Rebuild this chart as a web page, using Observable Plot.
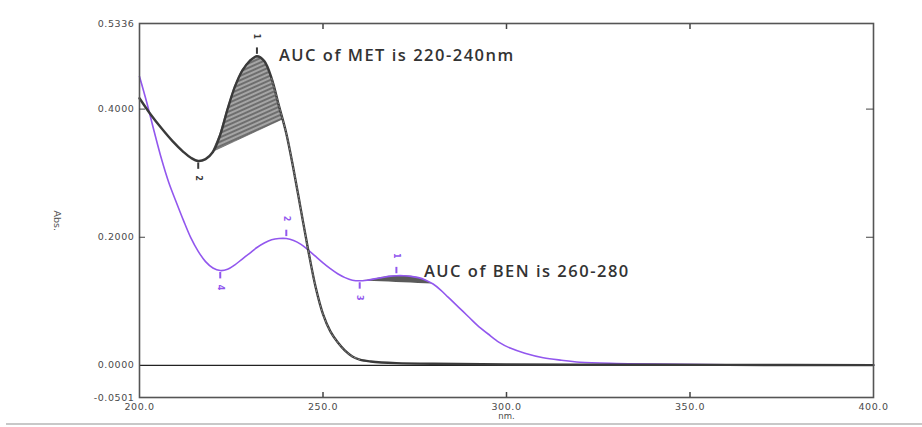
<!DOCTYPE html>
<html>
<head>
<meta charset="utf-8">
<script src="https://cdn.jsdelivr.net/npm/d3@7"></script>
<script src="https://cdn.jsdelivr.net/npm/@observablehq/plot@0.6"></script>
<style>
  html, body { margin: 0; padding: 0; background: #fff; }
  #wrap { position: relative; width: 922px; height: 427px; overflow: hidden; }
  #edge { position: absolute; left: 6px; right: 0; top: 423px; height: 2px; background: #c8c8c8; }
</style>
</head>
<body>
<div id="wrap"><div id="chart"></div><div id="edge"></div></div>
<script>
// ---- data ----
const wavelengthMET = [200, 203, 206, 209, 212, 214, 216, 218, 220, 222, 224, 226, 228, 230, 232, 234, 236, 238, 240, 242, 244, 246, 248, 250, 252, 254, 256, 258, 260, 263, 266, 270, 280, 300, 330, 360, 400];
const absMET        = [0.417, 0.392, 0.370, 0.350, 0.333, 0.324, 0.319, 0.322, 0.333, 0.360, 0.400, 0.435, 0.460, 0.475, 0.4825, 0.475, 0.448, 0.405, 0.362, 0.305, 0.242, 0.179, 0.122, 0.080, 0.053, 0.036, 0.023, 0.014, 0.009, 0.006, 0.0045, 0.0035, 0.0025, 0.0015, 0.001, 0.0008, 0.0005];

const wavelengthBEN = [200, 202, 204, 206, 208, 210, 212, 214, 216, 218, 220, 222, 224, 226, 228, 230, 232, 234, 236, 238, 240, 242, 244, 246, 248, 250, 252, 254, 256, 258, 260, 262, 264, 266, 268, 270, 272, 274, 276, 278, 280, 282, 284, 286, 288, 290, 292, 295, 298, 301, 305, 310, 315, 320, 330, 340, 360, 400];
const absBEN        = [0.451, 0.410, 0.365, 0.322, 0.285, 0.255, 0.226, 0.199, 0.178, 0.162, 0.152, 0.148, 0.150, 0.157, 0.166, 0.175, 0.184, 0.191, 0.196, 0.198, 0.198, 0.195, 0.189, 0.180, 0.170, 0.160, 0.151, 0.143, 0.137, 0.133, 0.132, 0.133, 0.135, 0.137, 0.139, 0.140, 0.140, 0.139, 0.137, 0.133, 0.127, 0.118, 0.107, 0.096, 0.085, 0.074, 0.063, 0.049, 0.036, 0.027, 0.019, 0.012, 0.008, 0.005, 0.003, 0.002, 0.001, 0.0005];

const aucRangeMET = [220, 239];
const aucRangeBEN = [260, 280];

const markerWavelengthMET = [216, 232];
const markerLabelMET      = ["2", "1"];
const markerSideMET       = [-1, 1];   // -1 below, +1 above

const markerWavelengthBEN = [222, 240, 260, 270];
const markerLabelBEN      = ["4", "2", "3", "1"];
const markerSideBEN       = [-1, 1, -1, 1];

const annotationText = ["AUC of MET is 220-240nm", "AUC of BEN is 260-280"];
const annotationX    = [238, 277.5];
const annotationY    = [0.483, 0.146];

const xTickValues = [200, 250, 300, 350, 400];
const yTickValues = [-0.0501, 0, 0.2, 0.4, 0.5336];
const xDomain = [200, 400];
const yDomain = [-0.0501, 0.5336];

// ---- helpers ----
const met = wavelengthMET.map((w, i) => ({w, a: absMET[i]}));
const ben = wavelengthBEN.map((w, i) => ({w, a: absBEN[i]}));
function interp(data, w) {
  for (let i = 1; i < data.length; i++) {
    if (data[i].w >= w) {
      const p = data[i - 1], q = data[i];
      return p.a + (q.a - p.a) * (w - p.w) / (q.w - p.w);
    }
  }
  return data[data.length - 1].a;
}
function aucBand(data, [w0, w1]) {
  const a0 = interp(data, w0), a1 = interp(data, w1);
  const pts = [w0, ...data.filter(d => d.w > w0 && d.w < w1).map(d => d.w), w1];
  return pts.map(w => ({w, top: interp(data, w), base: a0 + (a1 - a0) * (w - w0) / (w1 - w0)}));
}
const bandMET = aucBand(met, aucRangeMET);
const bandBEN = aucBand(ben, aucRangeBEN);
const markersMET = markerWavelengthMET.map((w, i) => ({w, a: interp(met, w), label: markerLabelMET[i], side: markerSideMET[i]}));
const markersBEN = markerWavelengthBEN.map((w, i) => ({w, a: interp(ben, w), label: markerLabelBEN[i], side: markerSideBEN[i]}));
const annotations = annotationText.map((t, i) => ({t, x: annotationX[i], y: annotationY[i]}));

const purple = "#9257ee";
const dark = "#3a3a3a";

function markerMarks(markers, color) {
  return [
    Plot.ruleX(markers, {x: "w", y1: d => d.a + d.side * 0.003, y2: d => d.a + d.side * 0.013, stroke: color, strokeWidth: 2}),
    Plot.text(markers, {x: "w", y: "a", text: "label", rotate: 90, fill: color, fontSize: 8, fontWeight: "bold",
      filter: d => d.side > 0, dy: -20}),
    Plot.text(markers, {x: "w", y: "a", text: "label", rotate: 90, fill: color, fontSize: 8, fontWeight: "bold",
      filter: d => d.side < 0, dy: 17})
  ];
}

const chart = Plot.plot({
  width: 922,
  height: 427,
  marginLeft: 139,
  marginRight: 49,
  marginTop: 23,
  marginBottom: 30,
  style: {fontFamily: "DejaVu Sans, sans-serif", fontSize: "9.5px", color: "#4a4a4a", background: "#fff"},
  x: {domain: xDomain},
  y: {domain: yDomain},
  marks: [
    Plot.areaY(bandMET, {x: "w", y1: "base", y2: "top", fill: "url(#hatchMET)", stroke: "#444", strokeWidth: 0.6}),
    Plot.areaY(bandBEN, {x: "w", y1: "base", y2: "top", fill: "#5a5a5a"}),
    Plot.ruleY([0], {stroke: "#222", strokeWidth: 1.2}),
    Plot.line(ben, {x: "w", y: "a", stroke: purple, strokeWidth: 1.6, curve: "catmull-rom"}),
    Plot.line(met, {x: "w", y: "a", stroke: dark, strokeWidth: 2.4, curve: "catmull-rom"}),
    Plot.line(met, {x: "w", y: "a", stroke: "#fff", strokeOpacity: 0.55, strokeWidth: 0.7, strokeDasharray: "2,2", curve: "catmull-rom",
      filter: d => d.w >= 236 && d.w <= 262}),
    ...markerMarks(markersBEN, purple),
    ...markerMarks(markersMET, dark),
    Plot.text(annotations, {x: "x", y: "y", text: "t", textAnchor: "start", fontFamily: "Open Sans", fontWeight: 600, fontSize: 16.5, fill: "#333"}),
    Plot.frame({stroke: "#555", strokeWidth: 1.6}),
    Plot.axisX({anchor: "bottom", ticks: xTickValues, tickSize: 0, tickPadding: 6, tickFormat: d => d.toFixed(1), label: null}),
    Plot.axisX({anchor: "bottom", ticks: [250, 300, 350], tickSize: -5, tickFormat: () => "", label: null, stroke: "#444", strokeWidth: 1.5}),
    Plot.axisX({anchor: "top", ticks: [250, 300, 350], tickSize: -5, tickFormat: () => "", label: null, stroke: "#444", strokeWidth: 1.5}),
    Plot.axisY({anchor: "left", ticks: yTickValues, tickSize: 0, tickPadding: 5, tickFormat: d => d.toFixed(4), label: null}),
    Plot.axisY({anchor: "left", ticks: [0.2, 0.4], tickSize: -6, tickFormat: () => "", label: null, stroke: "#444"}),
    Plot.axisY({anchor: "right", ticks: [0.2, 0.4], tickSize: -8, tickFormat: () => "", label: null, stroke: "#444"}),
    Plot.text(["nm."], {frameAnchor: "bottom", dy: 21, fontSize: 8.5, fill: "#4a4a4a"}),
    Plot.text(["Abs."], {frameAnchor: "left", dx: -82, rotate: 90, fontSize: 9.5, fill: "#555555"})
  ]
});

// hatch pattern for the MET area
const ns = "http://www.w3.org/2000/svg";
const defs = document.createElementNS(ns, "defs");
defs.innerHTML = `<pattern id="hatchMET" patternUnits="userSpaceOnUse" width="5" height="4" patternTransform="rotate(-24)">
  <rect width="5" height="4" fill="#6e6e6e"/>
  <line x1="0" y1="1" x2="5" y2="1" stroke="#ffffff" stroke-width="0.9" stroke-opacity="0.85"/>
</pattern>`;
chart.insertBefore(defs, chart.firstChild);

// wide, spaced-out lettering as in the scanned figure
d3.select(chart).selectAll("text").each(function () {
  const s = this.textContent;
  if (s.startsWith("AUC")) this.style.letterSpacing = "1.5px";
  else if (/^-?\d+\.\d+$/.test(s)) this.style.letterSpacing = "0.6px";
});
document.getElementById("chart").appendChild(chart);
</script>
</body>
</html>
